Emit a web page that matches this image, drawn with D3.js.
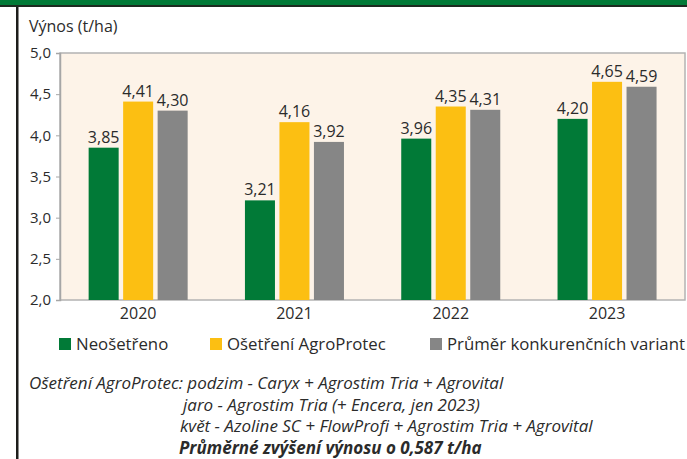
<!DOCTYPE html>
<html>
<head>
<meta charset="utf-8">
<script src="https://cdn.jsdelivr.net/npm/d3@7"></script>
<style>
  body { margin: 0; background: #fff; }
  svg { display: block; font-family: "Open Sans", sans-serif; }
</style>
</head>
<body>
<div id="chart"></div>
<script>
var years = ["2020", "2021", "2022", "2023"];
var seriesNames = ["Neošetřeno", "Ošetření AgroProtec", "Průměr konkurenčních variant"];
var seriesColors = ["#017a37", "#fcbf12", "#868686"];
var neosetreno = [3.85, 3.21, 3.96, 4.20];
var agroprotec = [4.41, 4.16, 4.35, 4.65];
var prumer = [4.30, 3.92, 4.31, 4.59];
var yTicks = [2.0, 2.5, 3.0, 3.5, 4.0, 4.5, 5.0];
var notes = [
    "Ošetření AgroProtec: podzim - Caryx + Agrostim Tria + Agrovital",
    "jaro - Agrostim Tria (+ Encera, jen 2023)",
    "květ - Azoline SC + FlowProfi + Agrostim Tria + Agrovital",
    "Průměrné zvýšení výnosu o 0,587 t/ha"
];

var width = 687, height = 459;
var plot = {left: 60, right: 685, top: 53, bottom: 300};
var comma = function(v, n) { return v.toFixed(n).replace(".", ","); };

var svg = d3.select("#chart").append("svg")
    .attr("width", width)
    .attr("height", height);

// frame
svg.append("rect").attr("x", 0).attr("y", 0).attr("width", width).attr("height", 5).attr("fill", "#017a37");
svg.append("rect").attr("x", 0).attr("y", 5).attr("width", width).attr("height", 2).attr("fill", "#1d2a20");
svg.append("rect").attr("x", 16).attr("y", 7).attr("width", 2.5).attr("height", height).attr("fill", "#1d1d1b");

var x = d3.scaleBand().domain(years).range([plot.left, plot.left + 4 * 156.3]);
var xi = d3.scaleBand().domain(d3.range(3)).range([-51.75, 51.75]).paddingInner(0.13).paddingOuter(0.065);
var y = d3.scaleLinear().domain([2, 5]).range([plot.bottom, plot.top]);

svg.append("rect")
    .attr("x", plot.left).attr("y", plot.top)
    .attr("width", plot.right - plot.left).attr("height", plot.bottom - plot.top)
    .attr("fill", "#fdf3e8").attr("stroke", "#b3b3b3").attr("stroke-width", 1.5);

// y axis
var yAxis = d3.axisLeft(y).tickValues(yTicks).tickSize(4).tickFormat(function(d) { return comma(d, 1); });
var ga = svg.append("g").attr("transform", "translate(" + plot.left + ",0)").call(yAxis);
ga.select(".domain").attr("stroke", "#a6a6a6").attr("stroke-width", 1.5);
ga.selectAll(".tick line").attr("stroke", "#a6a6a6");
ga.selectAll(".tick text").attr("font-size", 15).attr("fill", "#2b2b2b").attr("x", -9)
    .attr("font-family", "Open Sans");

svg.append("text").attr("x", 29).attr("y", 32).attr("font-size", 16).attr("fill", "#2b2b2b").text("Výnos (t/ha)");

// bars
var data = [];
years.forEach(function(yr, i) {
    [neosetreno[i], agroprotec[i], prumer[i]].forEach(function(v, s) {
        data.push({year: yr, s: s, v: v});
    });
});

var bars = svg.append("g");
bars.selectAll("rect").data(data).enter().append("rect")
    .attr("x", function(d) { return x(d.year) + x.bandwidth() / 2 + xi(d.s); })
    .attr("width", xi.bandwidth())
    .attr("y", function(d) { return y(d.v); })
    .attr("height", function(d) { return plot.bottom - y(d.v); })
    .attr("fill", function(d) { return seriesColors[d.s]; });

bars.selectAll("text").data(data).enter().append("text")
    .attr("x", function(d) { return x(d.year) + x.bandwidth() / 2 + xi(d.s) + xi.bandwidth() / 2; })
    .attr("y", function(d) { return y(d.v) - 5; })
    .attr("text-anchor", "middle")
    .attr("font-size", 16)
    .attr("fill", "#2b2b2b")
    .text(function(d) { return comma(d.v, 2); });

// year labels
svg.append("g").selectAll("text").data(years).enter().append("text")
    .attr("x", function(d) { return x(d) + x.bandwidth() / 2; })
    .attr("y", 319)
    .attr("text-anchor", "middle")
    .attr("font-size", 16)
    .attr("fill", "#2b2b2b")
    .text(function(d) { return d; });

// legend
var legendX = [59, 210, 430];
var lg = svg.append("g").selectAll("g").data(seriesNames).enter().append("g")
    .attr("transform", function(d, i) { return "translate(" + legendX[i] + ",338)"; });
lg.append("rect").attr("width", 12).attr("height", 12).attr("fill", function(d, i) { return seriesColors[i]; });
lg.append("text").attr("x", 17).attr("y", 11.5).attr("font-size", 16.8).attr("fill", "#2b2b2b").text(function(d) { return d; });

// notes
var noteX = [29, 183, 180, 179];
svg.append("g").selectAll("text").data(notes).enter().append("text")
    .attr("x", function(d, i) { return noteX[i]; })
    .attr("y", function(d, i) { return 389 + i * 21.5; })
    .attr("font-size", 17)
    .attr("font-style", "italic")
    .attr("font-weight", function(d, i) { return i === 3 ? "bold" : "normal"; })
    .attr("fill", "#2b2b2b")
    .text(function(d) { return d; });
</script>
</body>
</html>
